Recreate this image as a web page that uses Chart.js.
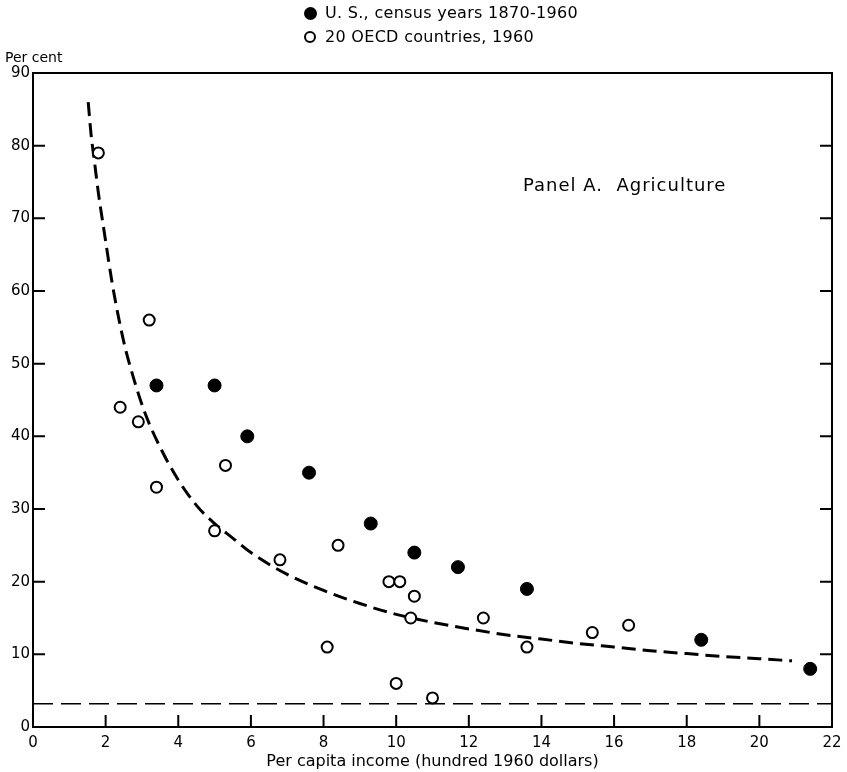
<!DOCTYPE html>
<html>
<head>
<meta charset="utf-8">
<script src="https://cdn.jsdelivr.net/npm/chart.js@4.4.1/dist/chart.umd.min.js"></script>
<style>
  body { margin: 0; background: #fff; }
  #wrap { position: relative; width: 847px; height: 772px; font-family: "DejaVu Sans", sans-serif; color: #000; }
  canvas { position: absolute; left: 0; top: 0; }
  .lbl { position: absolute; white-space: nowrap; font-size: 16px; line-height: 18px; }
  .dot { position: absolute; border-radius: 50%; box-sizing: border-box; }
</style>
</head>
<body>
<div id="wrap">
  <canvas id="grafica" width="847" height="772"></canvas>
  <div class="dot" style="left:304px; top:7px; width:13px; height:13px; background:#000;"></div>
  <div class="lbl" style="left:325px; top:4px; letter-spacing:0.3px;">U. S., census years 1870-1960</div>
  <div class="dot" style="left:304px; top:31px; width:12px; height:12px; border:2px solid #000;"></div>
  <div class="lbl" style="left:325px; top:28px; letter-spacing:0.3px;">20 OECD countries, 1960</div>
  <div class="lbl" style="left:5px; top:48px; font-size:14px;">Per cent</div>
  <div class="lbl" style="left:523px; top:176px; font-size:18px; letter-spacing:1px;">Panel A.&nbsp; Agriculture</div>
</div>
<script>
// Datos
// EE.UU., anos censales 1870-1960
const usIncome = [3.4, 5.0, 5.9, 7.6, 9.3, 10.5, 11.7, 13.6, 18.4, 21.4];
const usShare = [47, 47, 40, 35, 28, 24, 22, 19, 12, 8];

// 20 paises OCDE, 1960
const oecdIncome = [1.8, 3.2, 2.4, 2.9, 3.4, 5.0, 5.3, 6.8, 8.4, 8.1, 9.8, 10.1, 10.5, 10.4, 10.0, 11.0, 12.4, 13.6, 15.4, 16.4];
const oecdShare = [79, 56, 44, 42, 33, 27, 36, 23, 25, 11, 20, 20, 18, 15, 6, 4, 15, 11, 13, 14];

// curva ajustada (discontinua), leida punto a punto
const curveIncome = [1.52, 1.6, 1.7, 1.8, 1.95, 2.2, 2.5, 2.8, 3.1, 3.5, 4.0, 4.5, 5.0, 5.5, 6.0, 7.0, 8.0, 9.0, 10.0, 11.0, 12.0, 13.0, 14.0, 15.0, 16.0, 17.0, 18.0, 19.0, 20.0, 20.9];
const curveShare = [86, 81.5, 77.5, 73.5, 68.5, 60.5, 53, 47.5, 43, 38.5, 34, 30.5, 28, 26, 24, 21, 18.8, 17, 15.5, 14.4, 13.5, 12.7, 12.1, 11.5, 11.0, 10.5, 10.1, 9.7, 9.4, 9.1];

// linea horizontal discontinua
const floorIncome = [0, 22];
const floorShare = [3.2, 3.2];

const xTicks = [0, 2, 4, 6, 8, 10, 12, 14, 16, 18, 20, 22];
const yTicks = [0, 10, 20, 30, 40, 50, 60, 70, 80, 90];

function toPoints(xs, ys) {
    return xs.map((x, i) => ({ x: x, y: ys[i] }));
}

// marco y marcas hacia dentro
const marcoPlugin = {
    id: "marco",
    afterDatasetsDraw(chart) {
        const ctx = chart.ctx;
        const a = chart.chartArea;
        const sx = chart.scales.x;
        const sy = chart.scales.y;
        ctx.save();
        ctx.strokeStyle = "#000";
        ctx.lineWidth = 2;
        ctx.strokeRect(a.left, a.top, a.right - a.left, a.bottom - a.top);
        ctx.beginPath();
        yTicks.slice(1, -1).forEach((v) => {
            const y = sy.getPixelForValue(v);
            ctx.moveTo(a.left, y);
            ctx.lineTo(a.left + 12, y);
            ctx.moveTo(a.right, y);
            ctx.lineTo(a.right - 12, y);
        });
        xTicks.slice(1, -1).forEach((v) => {
            const x = sx.getPixelForValue(v);
            ctx.moveTo(x, a.bottom);
            ctx.lineTo(x, a.bottom - 12);
        });
        ctx.stroke();
        ctx.restore();
    },
};

const fuente = { family: "DejaVu Sans", size: 15 };

new Chart(document.getElementById("grafica").getContext("2d"), {
    type: "scatter",
    data: {
        datasets: [
            {
                label: "U. S., census years 1870-1960",
                data: toPoints(usIncome, usShare),
                pointRadius: 6.5,
                backgroundColor: "#000",
                borderColor: "#000",
                borderWidth: 1,
                order: 1,
            },
            {
                label: "20 OECD countries, 1960",
                data: toPoints(oecdIncome, oecdShare),
                pointRadius: 5.5,
                backgroundColor: "#fff",
                borderColor: "#000",
                borderWidth: 2,
                order: 1,
            },
            {
                type: "line",
                label: "curve",
                data: toPoints(curveIncome, curveShare),
                borderColor: "#000",
                borderWidth: 3,
                borderDash: [14, 7],
                pointRadius: 0,
                cubicInterpolationMode: "monotone",
                fill: false,
                order: 2,
            },
            {
                type: "line",
                label: "floor",
                data: toPoints(floorIncome, floorShare),
                borderColor: "#000",
                borderWidth: 1.5,
                borderDash: [20, 8],
                pointRadius: 0,
                fill: false,
                order: 2,
            },
        ],
    },
    options: {
        responsive: false,
        animation: false,
        events: [],
        layout: { padding: { top: 73, right: 15, bottom: 0, left: 0 } },
        plugins: {
            legend: { display: false },
            tooltip: { enabled: false },
        },
        scales: {
            x: {
                type: "linear",
                min: 0,
                max: 22,
                afterFit: (scale) => {
                    scale.height = 45;
                    scale.paddingLeft = 0;
                    scale.paddingRight = 0;
                },
                afterBuildTicks: (scale) => { scale.ticks = xTicks.map((v) => ({ value: v })); },
                grid: { display: false, drawTicks: false },
                border: { display: false },
                ticks: { color: "#000", font: fuente, padding: 7 },
                title: {
                    display: true,
                    text: "Per capita income (hundred 1960 dollars)",
                    color: "#000",
                    font: { family: "DejaVu Sans", size: 16 },
                    padding: { top: 0, bottom: 1 },
                },
            },
            y: {
                type: "linear",
                min: 0,
                max: 90,
                afterFit: (scale) => { scale.width = 33; },
                afterBuildTicks: (scale) => { scale.ticks = yTicks.map((v) => ({ value: v })); },
                grid: { display: false, drawTicks: false },
                border: { display: false },
                ticks: { color: "#000", font: fuente, padding: 3 },
            },
        },
    },
    plugins: [marcoPlugin],
});
</script>
</body>
</html>
